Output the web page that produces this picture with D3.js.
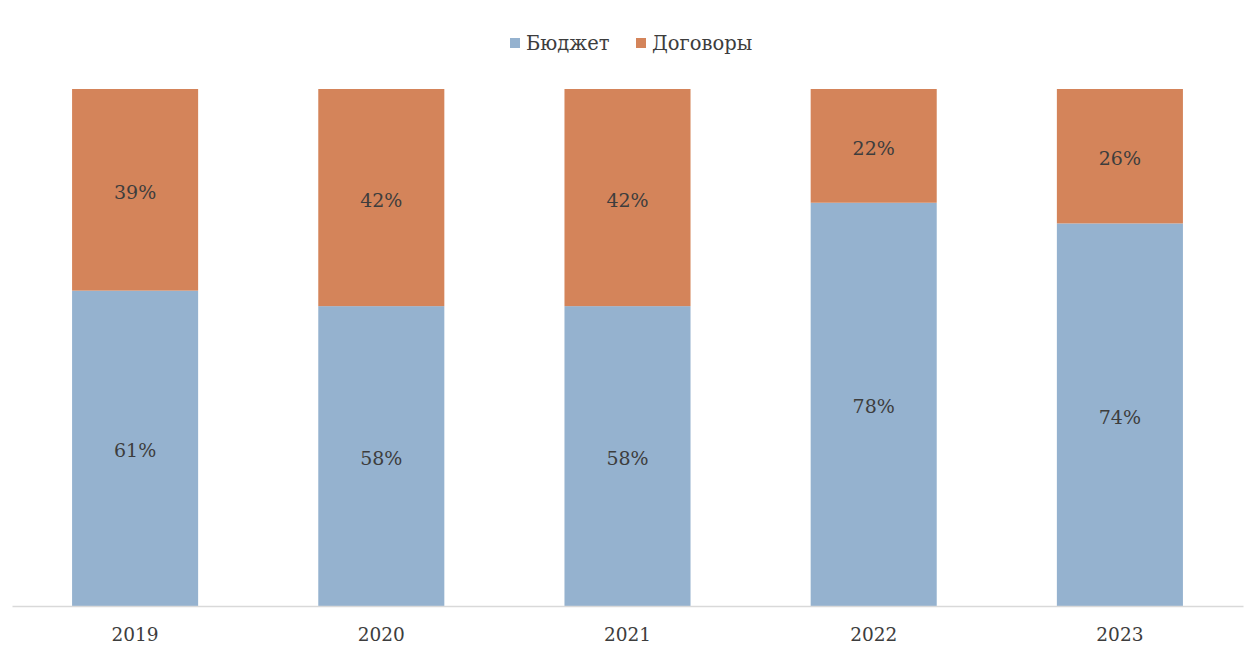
<!DOCTYPE html>
<html>
<head>
<meta charset="utf-8">
<script src="https://cdn.jsdelivr.net/npm/d3@7"></script>
<style>
  html, body { margin: 0; padding: 0; background: #fff; }
  svg { display: block; }
  text { font-family: "DejaVu Serif", "Liberation Serif", serif; fill: #3d3d3d; }
</style>
</head>
<body>
<svg id="chart" width="1259" height="650"></svg>
<script>
// Funding structure by year, percent of total
const years = ["2019", "2020", "2021", "2022", "2023"];
const budget = [61, 58, 58, 78, 74];
const contracts = [39, 42, 42, 22, 26];
const seriesNames = ["Бюджет", "Договоры"];
const seriesColors = ["#95b2cf", "#d4845a"];

const rows = years.map((y, i) => ({ year: y, "Бюджет": budget[i], "Договоры": contracts[i] }));

const svg = d3.select("#chart");
const baseY = 606, topY = 89;

const x = d3.scaleBand()
  .domain(years)
  .range([12, 1243])
  .paddingInner(0.488)
  .paddingOuter(0.244);

const y = d3.scaleLinear().domain([0, 100]).range([baseY, topY]);

const stacked = d3.stack().keys(seriesNames)(rows);

const layers = svg.append("g").selectAll("g")
  .data(stacked)
  .join("g")
  .attr("fill", (d, i) => seriesColors[i]);

layers.selectAll("rect")
  .data(d => d)
  .join("rect")
  .attr("x", d => x(d.data.year))
  .attr("width", x.bandwidth())
  .attr("y", d => y(d[1]))
  .attr("height", d => y(d[0]) - y(d[1]));

layers.selectAll("text")
  .data(d => d)
  .join("text")
  .attr("x", d => x(d.data.year) + x.bandwidth() / 2)
  .attr("y", d => (y(d[0]) + y(d[1])) / 2 + 2)
  .attr("text-anchor", "middle")
  .attr("dominant-baseline", "central")
  .attr("font-size", 19)
  .text(d => (d[1] - d[0]) + "%");

// Category axis
const xAxis = svg.append("g")
  .attr("transform", `translate(0,${baseY})`)
  .call(d3.axisBottom(x).tickSize(0).tickPadding(22));
xAxis.select(".domain").attr("stroke", "#d9d9d9").attr("stroke-width", 1.5);
xAxis.selectAll("text").attr("font-size", 18.5).attr("fill", "#3d3d3d")
  .style("font-family", "'DejaVu Serif', serif");

// Legend
const legendItems = [
  { name: seriesNames[0], color: seriesColors[0], x: 510 },
  { name: seriesNames[1], color: seriesColors[1], x: 636 }
];
const legend = svg.append("g");
legendItems.forEach(item => {
  legend.append("rect")
    .attr("x", item.x).attr("y", 38)
    .attr("width", 10).attr("height", 10)
    .attr("fill", item.color);
  legend.append("text")
    .attr("x", item.x + 16).attr("y", 43)
    .attr("dominant-baseline", "central")
    .attr("font-size", 19.5)
    .text(item.name);
});
</script>
</body>
</html>
